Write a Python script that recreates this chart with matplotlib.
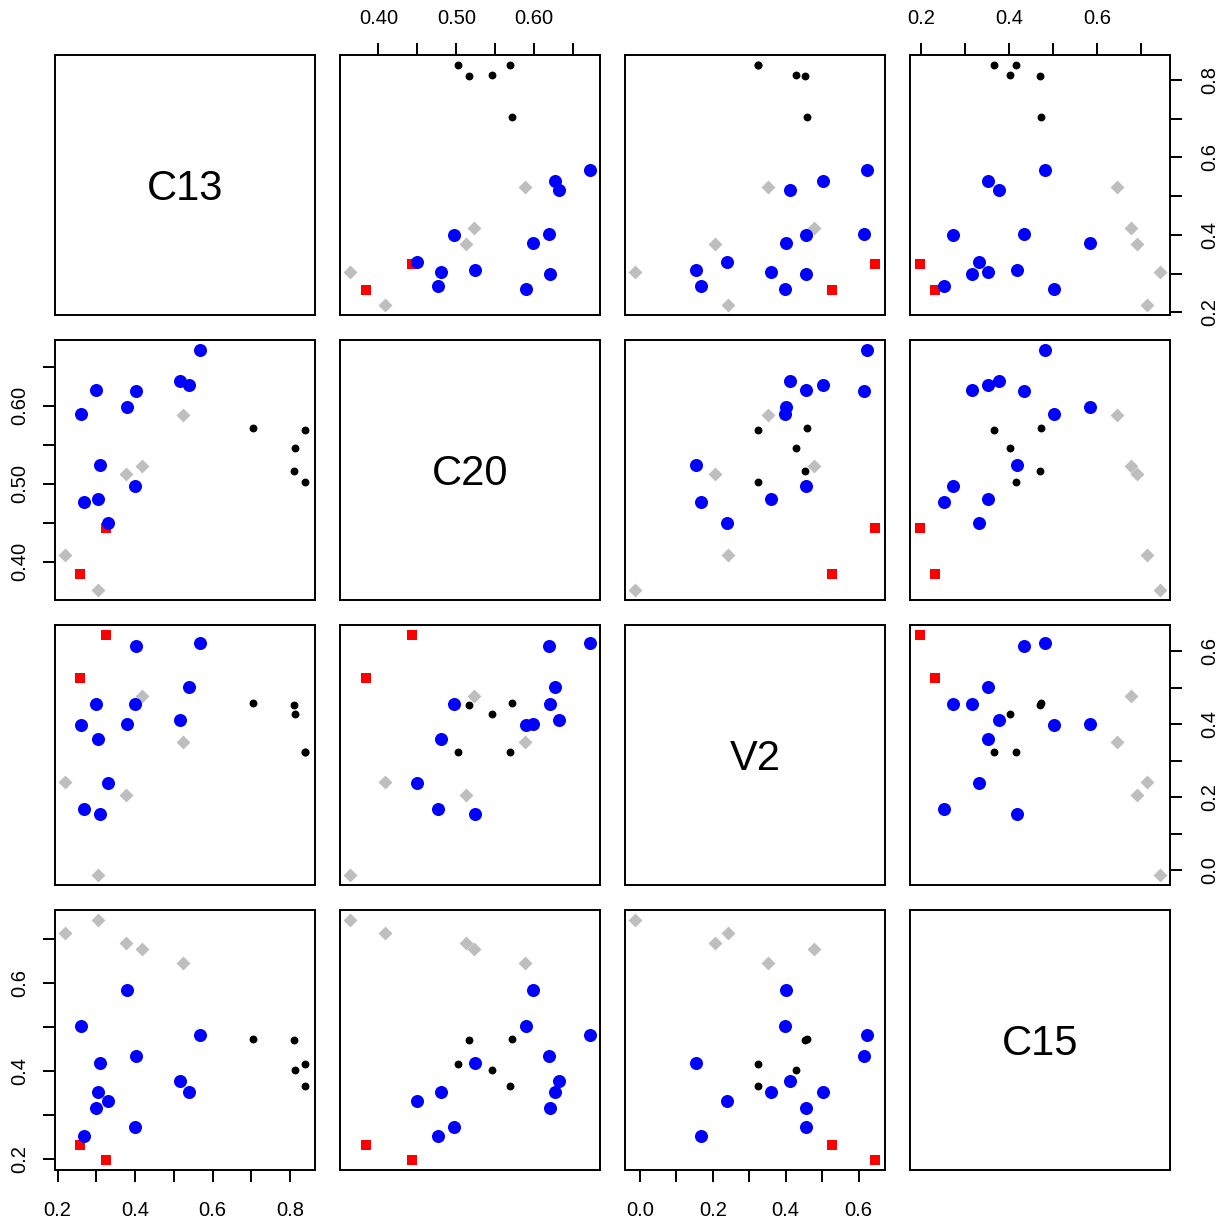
import numpy as np
import matplotlib
matplotlib.use('Agg')
import matplotlib.pyplot as plt

plt.rcParams['font.family'] = ['Liberation Sans', 'DejaVu Sans']

names = ['C13', 'C20', 'V2', 'C15']

# values, one list per group
# blue circles
blue_c13 = [0.567, 0.515, 0.539, 0.299, 0.403, 0.380, 0.261, 0.308, 0.400, 0.303, 0.268, 0.330]
blue_c20 = [0.672, 0.632, 0.626, 0.620, 0.619, 0.598, 0.589, 0.524, 0.497, 0.480, 0.476, 0.450]
blue_v2 = [0.624, 0.411, 0.502, 0.456, 0.615, 0.402, 0.398, 0.155, 0.456, 0.361, 0.167, 0.239]
blue_c15 = [0.483, 0.377, 0.353, 0.316, 0.435, 0.585, 0.502, 0.417, 0.272, 0.353, 0.251, 0.331]
# gray diamonds
gray_c13 = [0.523, 0.417, 0.376, 0.218, 0.303]
gray_c20 = [0.588, 0.522, 0.513, 0.409, 0.363]
gray_v2 = [0.353, 0.478, 0.206, 0.243, -0.014]
gray_c15 = [0.646, 0.677, 0.692, 0.714, 0.745]
# red squares
red_c13 = [0.326, 0.257]
red_c20 = [0.443, 0.384]
red_v2 = [0.646, 0.526]
red_c15 = [0.196, 0.230]
# small black dots
black_c13 = [0.703, 0.839, 0.813, 0.810, 0.838]
black_c20 = [0.571, 0.569, 0.546, 0.516, 0.502]
black_v2 = [0.459, 0.325, 0.428, 0.454, 0.325]
black_c15 = [0.472, 0.365, 0.401, 0.470, 0.416]

# ticks and which of them get a label
tick_pos = [np.arange(0.2, 0.81, 0.1), np.arange(0.40, 0.651, 0.05),
            np.arange(0.0, 0.61, 0.1), np.arange(0.2, 0.71, 0.1)]
tick_lab = [['0.2', '', '0.4', '', '0.6', '', '0.8'],
            ['0.40', '', '0.50', '', '0.60', ''],
            ['0.0', '', '0.2', '', '0.4', '', '0.6'],
            ['0.2', '', '0.4', '', '0.6', '']]

groups = [
    ([gray_c13, gray_c20, gray_v2, gray_c15], dict(marker='D', s=50, c='#BEBEBE')),
    ([red_c13, red_c20, red_v2, red_c15], dict(marker='s', s=58, c='#FF0000')),
    ([black_c13, black_c20, black_v2, black_c15], dict(marker='o', s=32, c='black')),
    ([blue_c13, blue_c20, blue_v2, blue_c15], dict(marker='o', s=88, c='#0000FF')),
]

# R style limits: data range padded 4% each side
lims = []
for k in range(4):
    allv = np.concatenate([np.array(g[0][k]) for g in groups])
    lo, hi = allv.min(), allv.max()
    pad = 0.04 * (hi - lo)
    lims.append((lo - pad, hi + pad))

W = 1221
fig = plt.figure(figsize=(12.21, 12.21), dpi=100)
lw = 1.4

for i in range(4):
    for j in range(4):
        left = (55 + 285 * j) / W
        bottom = 1 - (55 + 285 * i + 260) / W
        ax = fig.add_axes([left, bottom, 260 / W, 260 / W])
        for sp in ax.spines.values():
            sp.set_linewidth(lw)
        ax.set_xlim(lims[j])
        ax.set_ylim(lims[i])
        ax.set_xticks([])
        ax.set_yticks([])
        if i == j:
            # baseline placed so the capitals sit centred in the box
            ax.text(0.5, 0.5 - 15 / 260, names[i], transform=ax.transAxes,
                    ha='center', va='baseline', fontsize=30)
        else:
            for data, style in groups:
                ax.scatter(data[j], data[i], linewidths=0, zorder=3, **style)

        ax.tick_params(length=8.6, width=lw, labelsize=14.5)
        # outer axes alternate sides like R pairs()
        if i == 0 and j % 2 == 1:
            ax.set_xticks(tick_pos[j], tick_lab[j])
            ax.xaxis.tick_top()
            ax.tick_params(axis='x', pad=10.5)
        if i == 3 and j % 2 == 0:
            ax.set_xticks(tick_pos[j], tick_lab[j])
            ax.tick_params(axis='x', pad=14)
        if j == 0 and i % 2 == 1:
            ax.set_yticks(tick_pos[i], tick_lab[i])
            ax.tick_params(axis='y', pad=10)
            plt.setp(ax.get_yticklabels(), rotation=90, va='center')
        if j == 3 and i % 2 == 0:
            ax.set_yticks(tick_pos[i], tick_lab[i])
            ax.yaxis.tick_right()
            ax.tick_params(axis='y', pad=13)
            plt.setp(ax.get_yticklabels(), rotation=90, va='center')

fig.savefig('out.png', dpi=100)
